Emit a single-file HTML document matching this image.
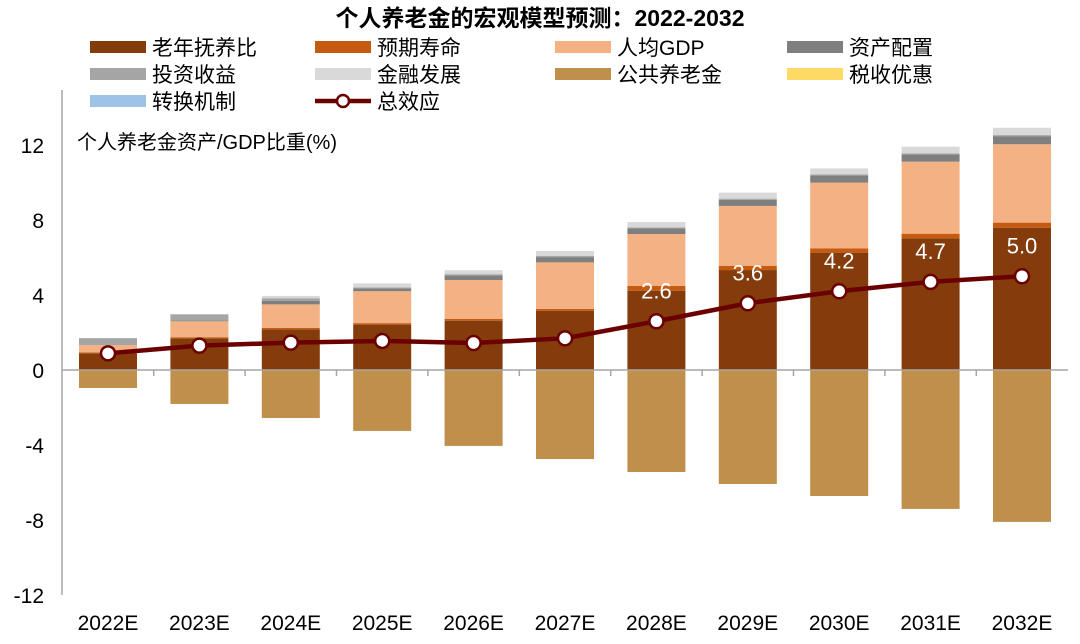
<!DOCTYPE html>
<html><head><meta charset="utf-8">
<style>
html,body{margin:0;padding:0;background:#fff;}
svg{display:block;font-family:"Liberation Sans","Noto Sans CJK SC",sans-serif;}
</style></head>
<body>
<svg id="chart" width="1080" height="644" viewBox="0 0 1080 644" xmlns="http://www.w3.org/2000/svg">
<text x="540" y="26" text-anchor="middle" font-size="23" font-weight="bold" fill="#000">个人养老金的宏观模型预测：2022-2032</text>
<g id="legend"></g>
<text x="77" y="149" font-size="20" fill="#000">个人养老金资产/GDP比重(%)</text>
<g id="plot"></g>
</svg>
<script>
const categories=["2022E","2023E","2024E","2025E","2026E","2027E","2028E","2029E","2030E","2031E","2032E"];
const oldAge=[0.89,1.69,2.17,2.42,2.63,3.16,4.23,5.33,6.26,7.02,7.59];
const lifeExp=[0.05,0.06,0.08,0.08,0.09,0.10,0.25,0.23,0.23,0.25,0.27];
const gdpPc=[0.39,0.85,1.25,1.70,2.08,2.48,2.77,3.19,3.50,3.84,4.18];
const assetAlloc=[0,0.05,0.18,0.16,0.25,0.28,0.30,0.33,0.38,0.39,0.43];
const invReturn=[0.37,0.32,0.15,0.05,0.06,0.06,0.06,0.06,0.06,0.06,0.06];
const finDev=[0,0,0.12,0.21,0.21,0.27,0.28,0.32,0.32,0.35,0.39];
const publicPension=[-0.96,-1.81,-2.56,-3.25,-4.05,-4.75,-5.44,-6.08,-6.72,-7.41,-8.10];
const taxIncentive=[0,0,0,0,0,0,0,0,0,0,0];
const transfer=[0,0,0,0,0,0,0,0,0,0,0];
const totalEffect=[0.89,1.30,1.46,1.55,1.44,1.69,2.6,3.56,4.2,4.7,5.0];
const totalLabels=["","","","","","","2.6","3.6","4.2","4.7","5.0"];
const yTicks=[12,8,4,0,-4,-8,-12];

const NS="http://www.w3.org/2000/svg";
const y0=370, ppu=18.75, x0=108, step=91.4, bw=58;
function yS(v){return y0-v*ppu;}
function xS(i){return x0+i*step;}
function mk(tag,attrs,parent){const e=document.createElementNS(NS,tag);for(const k in attrs)e.setAttribute(k,attrs[k]);parent.appendChild(e);return e;}
const plot=document.getElementById('plot');
const legend=document.getElementById('legend');

const series=[
 {name:"老年抚养比",key:"old-age-ratio",data:oldAge,c:"#843C0C"},
 {name:"预期寿命",key:"life-expectancy",data:lifeExp,c:"#C55A11"},
 {name:"人均GDP",key:"gdp-per-capita",data:gdpPc,c:"#F4B183"},
 {name:"资产配置",key:"asset-allocation",data:assetAlloc,c:"#7F7F7F"},
 {name:"投资收益",key:"investment-return",data:invReturn,c:"#A5A5A5"},
 {name:"金融发展",key:"financial-development",data:finDev,c:"#D9D9D9"},
 {name:"公共养老金",key:"public-pension",data:publicPension,c:"#BF8F4B"},
 {name:"税收优惠",key:"tax-incentive",data:taxIncentive,c:"#FFD966"},
 {name:"转换机制",key:"transfer-mechanism",data:transfer,c:"#9DC3E6"}
];

let ax=mk('line',{x1:62,y1:90,x2:62,y2:595,stroke:"#A6A6A6","stroke-width":1.5},plot);


yTicks.forEach(t=>{
 const tx=mk('text',{x:44,y:yS(t)+8,"text-anchor":"end","font-size":21,fill:"#000"},plot);
 tx.textContent=t;
 
 
});

categories.forEach((c,i)=>{
 let pos=0,neg=0;
 series.forEach(s=>{
  const v=s.data[i]; if(!v)return;
  let top,h;
  if(v>0){top=yS(pos+v);h=v*ppu;pos+=v;}else{top=yS(neg);h=-v*ppu;neg+=v;}
  const r=mk('rect',{x:xS(i)-bw/2,y:top,width:bw,height:h,fill:s.c},plot);
  
  
 });
 const xl=mk('text',{x:xS(i),y:630,"text-anchor":"middle","font-size":21,fill:"#000"},plot);
 xl.textContent=c;
 
 
 if(i>0){
  const tk=mk('line',{x1:xS(i)-step/2,y1:y0,x2:xS(i)-step/2,y2:y0+6,stroke:"#A6A6A6","stroke-width":1.5},plot);
  
  
 }
});
let xa=mk('line',{x1:62,y1:y0,x2:1068,y2:y0,stroke:"#A6A6A6","stroke-width":1.5},plot);



const pts=totalEffect.map((v,i)=>xS(i)+","+yS(v)).join(" ");
const pl=mk('polyline',{points:pts,fill:"none",stroke:"#6B0000","stroke-width":4.5},plot);


totalEffect.forEach((v,i)=>{
 const ci=mk('circle',{cx:xS(i),cy:yS(v),r:7,fill:"#fff",stroke:"#6B0000","stroke-width":2.5},plot);
 
 
 if(totalLabels[i]){
  const lb=mk('text',{x:xS(i),y:yS(v)-23,"text-anchor":"middle","font-size":22,fill:"#fff"},plot);
  lb.textContent=totalLabels[i];
  
  
 }
});

const colX=[90,315,555,787], rowY=[47,74,101];
const items=series.concat([{name:"总效应",key:"total-effect",line:true}]);
items.forEach((s,k)=>{
 const col=k%4,row=Math.floor(k/4);
 const x=colX[col],y=rowY[row];
 const g=mk('g',{},legend);
 
 
 if(s.line){
  mk('line',{x1:x,y1:y,x2:x+56,y2:y,stroke:"#6B0000","stroke-width":4.5},g);
  mk('circle',{cx:x+28,cy:y,r:6,fill:"#fff",stroke:"#6B0000","stroke-width":2.5},g);
 } else {
  mk('rect',{x:x,y:y-6,width:56,height:12,fill:s.c},g);
 }
 const t=mk('text',{x:x+62,y:y+8,"font-size":21,fill:"#000"},g);
 t.textContent=s.name;
});
</script>
</body></html>
